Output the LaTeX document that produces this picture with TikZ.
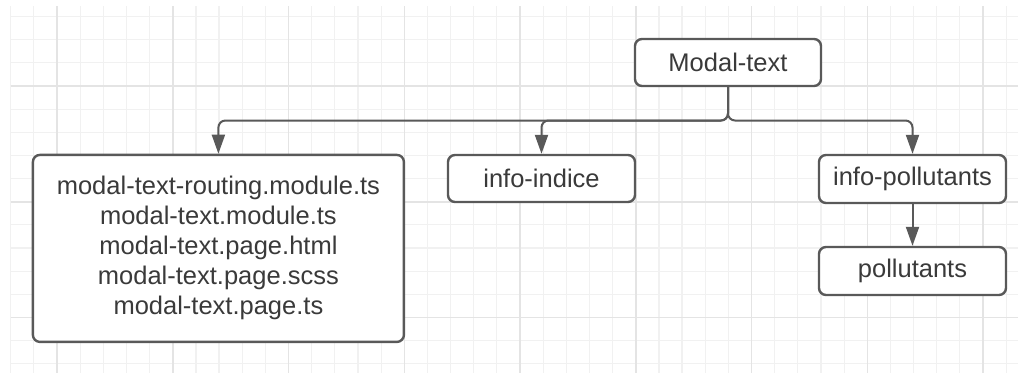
\documentclass[tikz,border=0pt]{standalone}
\usepackage{fontspec}
\setmainfont{Liberation Sans}
\usetikzlibrary{arrows.meta}
\definecolor{gridminor}{HTML}{F1F1F1}
\definecolor{gridmajor}{HTML}{E4E4E4}
\definecolor{boxline}{HTML}{595959}
\definecolor{txt}{HTML}{3A3A3A}
\tikzset{
  minorline/.style={draw=gridminor,line width=1.2pt},
  majorline/.style={draw=gridmajor,line width=1.5pt},
  box/.style={draw=boxline,line width=2.4pt,rounded corners=7pt,fill=white,
    inner sep=0pt,text=txt,font=\fontsize{25.5}{30}\selectfont,align=center},
  conn/.style={draw=boxline,line width=2pt,rounded corners=7pt,
    -{Triangle[length=19pt,width=13pt]}},
}
\begin{document}
\begin{tikzpicture}[x=1pt,y=-1pt]
\useasboundingbox (0,0) rectangle (1018,373);
\fill[white] (0,0) rectangle (1018,373);
% background grid
\foreach \k in {0,...,43}
  \draw[minorline] ({10.7+\k*23.15},6) -- ({10.7+\k*23.15},373);
\foreach \k in {0,...,15}
  \draw[minorline] (10.7,{16.5+\k*23.15}) -- (1018,{16.5+\k*23.15});
\foreach \k in {0,...,8}
  \draw[majorline] ({57+\k*115.75},6) -- ({57+\k*115.75},373);
\foreach \k in {0,1,2}
  \draw[majorline] (10.7,{86+\k*115.75}) -- (1018,{86+\k*115.75});

% nodes
\node[box,minimum width=186pt,minimum height=47pt] (top) at (728,62.5) {Modal-text};
\node[box,minimum width=371pt,minimum height=187pt] (files) at (218.4,248.4)
  {modal-text-routing.module.ts\\modal-text.module.ts\\modal-text.page.html\\modal-text.page.scss\\modal-text.page.ts};
\node[box,minimum width=187pt,minimum height=47pt] (indice) at (541.5,178.5) {info-indice};
\node[box,minimum width=187pt,minimum height=48pt] (ipoll) at (912.5,179) {info-pollutants};
\node[box,minimum width=187pt,minimum height=48pt] (poll) at (912.5,271) {pollutants};

% connectors
\coordinate (bus) at (728,120.5);
\draw[conn] (top.south) -- (bus) -| (files.north);
\draw[conn] (top.south) -- (bus) -| (indice.north);
\draw[conn] (top.south) -- (bus) -| (ipoll.north);
\draw[conn] (ipoll.south) -- (poll.north);
\end{tikzpicture}
\end{document}
